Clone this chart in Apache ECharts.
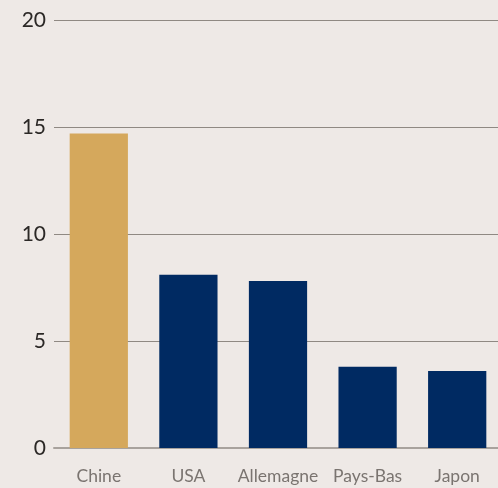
<!DOCTYPE html>
<html>
<head>
<meta charset="utf-8">
<script src="https://cdn.jsdelivr.net/npm/echarts@6/dist/echarts.min.js"></script>
<style>
  html, body { margin: 0; padding: 0; background: #eee9e6; }
  #chart { width: 498px; height: 488px; }
</style>
</head>
<body>
<div id="chart"></div>
<script>
// données
const countries = ['Chine', 'USA', 'Allemagne', 'Pays-Bas', 'Japon'];
const values = [14.7, 8.1, 7.8, 3.8, 3.6];
const barColors = ['#d5a85c', '#002a62', '#002a62', '#002a62', '#002a62'];

const chart = echarts.init(document.getElementById('chart'));

chart.setOption({
    backgroundColor: '#eee9e6',
    animation: false,
    grid: {left: 54, right: -4, top: 20, bottom: 40, outerBoundsMode: 'none'},
    xAxis: {
        type: 'category',
        data: countries,
        axisLine: {lineStyle: {color: '#a8a29d', width: 2}},
        axisTick: {show: false},
        axisLabel: {
            interval: 0,
            color: '#7a7470',
            fontSize: 17.5,
            fontFamily: 'Lato, "Open Sans", sans-serif',
            margin: 19
        }
    },
    yAxis: {
        type: 'value',
        min: 0,
        max: 20,
        interval: 5,
        axisLine: {show: false},
        axisTick: {show: false},
        splitLine: {lineStyle: {color: '#8f8983', width: 1}},
        axisLabel: {
            color: '#2b2826',
            fontSize: 21,
            fontFamily: 'Lato, "Open Sans", sans-serif',
            margin: 8
        }
    },
    series: [
        {
            type: 'bar',
            barWidth: '65%',
            data: values.map((v, i) => ({value: v, itemStyle: {color: barColors[i]}}))
        }
    ]
});
</script>
</body>
</html>
